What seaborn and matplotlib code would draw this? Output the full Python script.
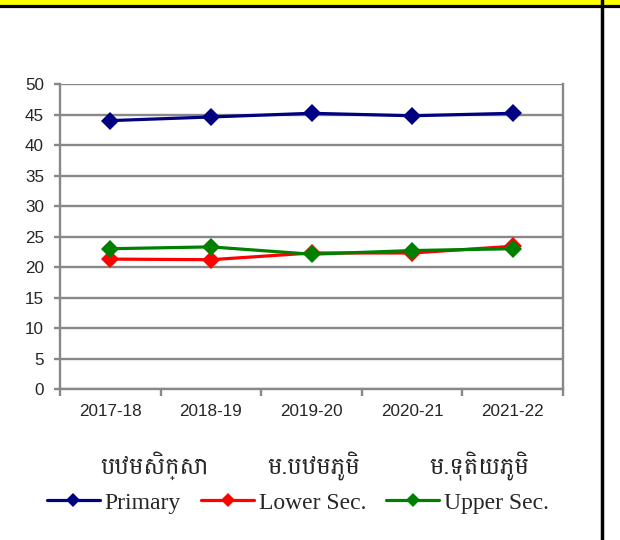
import pandas as pd
import seaborn as sns
import matplotlib.pyplot as plt
from matplotlib.patches import Rectangle
from matplotlib.lines import Line2D

years = ["2017-18", "2018-19", "2019-20", "2020-21", "2021-22"]
primary = [44.0, 44.6, 45.2, 44.8, 45.2]
lower_sec = [21.3, 21.2, 22.3, 22.3, 23.4]
upper_sec = [23.0, 23.3, 22.1, 22.7, 23.0]
series_names = ["Primary", "Lower Sec.", "Upper Sec."]
khmer_labels = ["បឋមសិក្សា", "ម.បឋមភូមិ", "ម.ទុតិយភូមិ"]
colors = ["#000080", "#ff0000", "#008000"]

df = pd.DataFrame({"year": years * 3,
                   "value": primary + lower_sec + upper_sec,
                   "series": [s for s in series_names for _ in years]})

sns.set_style("white")
plt.rcParams["font.family"] = ["Liberation Sans", "DejaVu Sans"]

fig = plt.figure(figsize=(6.2, 5.4), dpi=100)
ax = fig.add_axes([0.0968, 0.2796, 0.8113, 0.5648])

sns.lineplot(data=df, x="year", y="value", hue="series", style="series",
             markers=["D", "D", "D"], dashes=False, palette=colors,
             markersize=9, linewidth=2.3, markeredgewidth=0, ax=ax,
             legend=False)

ax.set_xlim(-0.5, 4.5)
ax.set_ylim(0, 50)
ax.set_yticks(range(0, 51, 5))
ax.yaxis.grid(True, color="#888888", linewidth=1.7)
ax.set_axisbelow(True)
ax.set_xlabel("")
ax.set_ylabel("")
for s in ["left", "bottom", "right"]:
    ax.spines[s].set_color("#888888")
    ax.spines[s].set_linewidth(1.7)
ax.spines["top"].set_visible(False)

ax.set_xticks(range(len(years)))
ax.set_xticklabels(years, fontsize=12.3)
ax.tick_params(axis="x", length=0, pad=11)
ax.tick_params(axis="y", labelsize=12.3, length=4.5, color="#888888", width=1.7,
               direction="out", left=True, pad=7)
# category boundary ticks
ax.set_xticks([i - 0.5 for i in range(len(years) + 1)], minor=True)
ax.tick_params(axis="x", which="minor", length=5, color="#888888", width=1.7, bottom=True)

for x, t in zip([155, 314, 479], khmer_labels):
    fig.text(x / 620, 1 - 466 / 540, t, ha="center", va="center", fontsize=17.5,
             family=["Battambang", "Khmer", "DejaVu Sans"])

handles = [Line2D([0], [0], color=c, marker="D", markersize=7.5, linewidth=2.3, markeredgewidth=0)
           for c in colors]
fig.legend(handles, series_names, loc="center", bbox_to_anchor=(298 / 620, 1 - 503 / 540),
           ncol=3, frameon=False, handlelength=2.25, handletextpad=0.2, columnspacing=0.85,
           prop={"family": "Liberation Serif", "size": 17})

# page decorations
fig.add_artist(Rectangle((0, 1 - 4.5 / 540), 1, 4.5 / 540, transform=fig.transFigure,
                         facecolor="#ffff00", edgecolor="none"))
fig.add_artist(Line2D([0, 1], [1 - 6 / 540] * 2, transform=fig.transFigure,
                      color="black", linewidth=2.3))
fig.add_artist(Line2D([602 / 620] * 2, [0, 1], transform=fig.transFigure,
                      color="black", linewidth=2.5))

fig.savefig("out.png", dpi=100)
